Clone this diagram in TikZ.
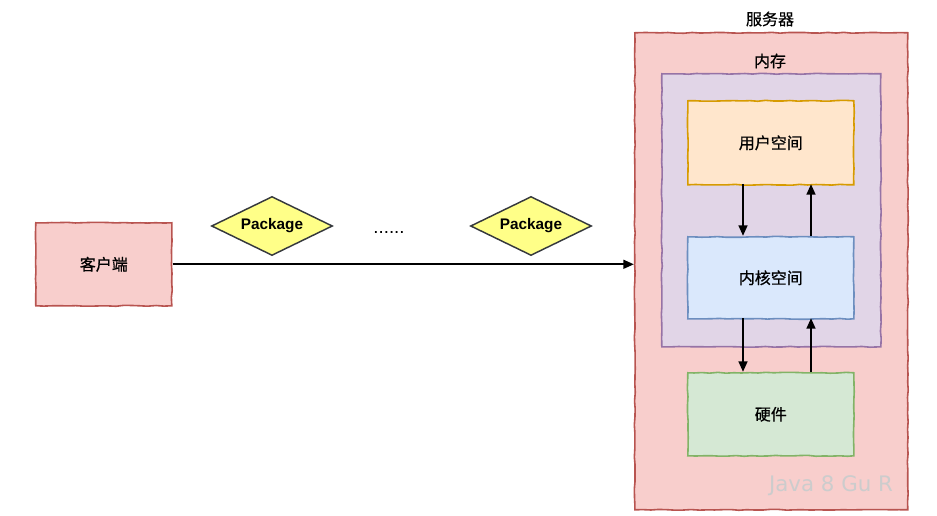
\documentclass[tikz,border=0pt]{standalone}
\usepackage{fontspec}
\setmainfont{Liberation Sans}
\newfontfamily\cjk[FakeBold=0.6]{Noto Sans CJK SC}
\newfontfamily\wmfont{DejaVu Sans}
\usetikzlibrary{arrows.meta,shapes.geometric,decorations.pathmorphing}
\definecolor{redfill}{HTML}{F8CECC}
\definecolor{redline}{HTML}{B85450}
\definecolor{purfill}{HTML}{E1D5E7}
\definecolor{purline}{HTML}{9673A6}
\definecolor{orfill}{HTML}{FFE6CC}
\definecolor{orline}{HTML}{D79B00}
\definecolor{blfill}{HTML}{DAE8FC}
\definecolor{blline}{HTML}{6C8EBF}
\definecolor{grfill}{HTML}{D5E8D4}
\definecolor{grline}{HTML}{82B366}
\definecolor{yefill}{HTML}{FFFF88}
\definecolor{yeline}{HTML}{36393D}
\begin{document}
\begin{tikzpicture}[x=0.75pt,y=-0.75pt,
  sketch/.style={decorate,decoration={random steps,segment length=6pt,amplitude=0.35pt}},
  box/.style={draw,line width=1.2pt,sketch,inner sep=0pt,anchor=north west},
  pkg/.style={diamond,draw=yeline,fill=yefill,line width=1.1pt,inner sep=0pt,minimum width=90.75pt,minimum height=44.25pt,aspect=2.05,font=\bfseries\fontsize{11.5}{13}\selectfont},
  lbl/.style={font=\cjk\fontsize{12}{14}\selectfont},
  arr/.style={line width=1.8pt,-{Triangle[length=8pt,width=6.5pt]}}]
\useasboundingbox (0,0) rectangle (937,516);
% server
\node[box,draw=redline,fill=redfill,minimum width=204.75pt,minimum height=357.75pt] (server) at (634,32) {};
\node[lbl] (serverl) at (770,19) {服务器};
\node[box,draw=purline,fill=purfill,minimum width=164.25pt,minimum height=204.75pt] (mem) at (661,73) {};
\node[lbl] (meml) at (770,61) {内存};
\node[box,draw=orline,fill=orfill,minimum width=124.5pt,minimum height=63pt] (user) at (687,100) {};
\node[lbl] (userl) at (user.center) {用户空间};
\node[box,draw=blline,fill=blfill,minimum width=124.5pt,minimum height=61.5pt] (kern) at (687,236) {};
\node[lbl] (kernl) at (kern.center) {内核空间};
\node[box,draw=grline,fill=grfill,minimum width=124.5pt,minimum height=62.25pt] (hw) at (687,372) {};
\node[lbl] (hwl) at (hw.center) {硬件};
% client
\node[box,draw=redline,fill=redfill,minimum width=102pt,minimum height=62.25pt] (client) at (35,222) {};
\node[lbl] (clientl) at (client.center) {客户端};
% arrows inside
\coordinate (ua) at (743,184); \coordinate (ka) at (743,236);
\coordinate (ub) at (811,184); \coordinate (kb) at (811,236);
\coordinate (kc) at (743,318); \coordinate (ha) at (743,372);
\coordinate (kd) at (811,318); \coordinate (hb) at (811,372);
\draw[arr] (ua) -- (ka);
\draw[arr] (kb) -- (ub);
\draw[arr] (kc) -- (ha);
\draw[arr] (hb) -- (kd);
% main arrow
\draw[arr] (client.east) -- (client.east -| server.west);
% packages
\node[pkg] (p1) at (272,226) {Package};
\node[pkg] (p2) at (531,226) {Package};
\node (dots) at (389,233) {\fontsize{14}{14}\selectfont......};
% watermark
\node[text=white!60!gray,font=\wmfont\fontsize{16}{18}\selectfont] (wm) at (831,486) {Java 8 Gu R};
\end{tikzpicture}
\end{document}
